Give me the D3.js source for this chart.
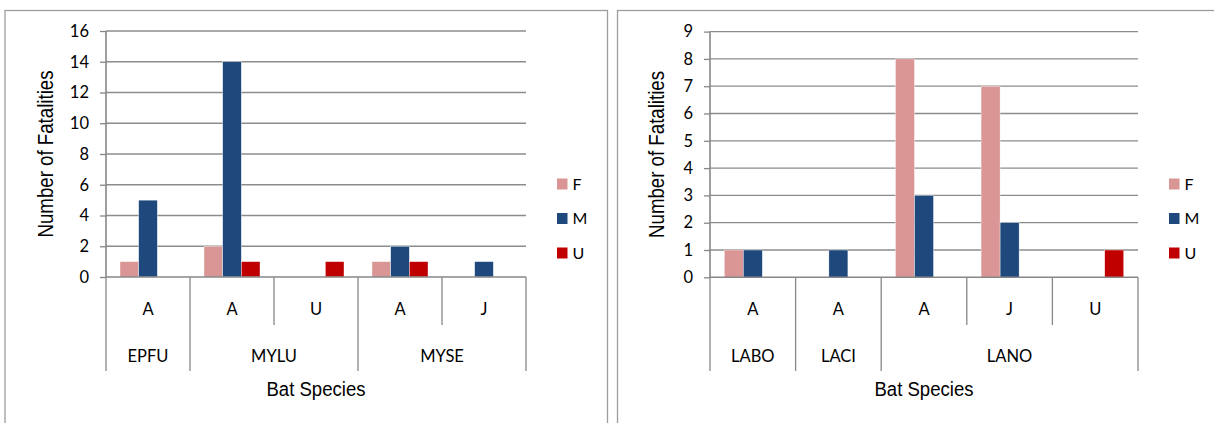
<!DOCTYPE html>
<html>
<head>
<meta charset="utf-8">
<script src="https://cdn.jsdelivr.net/npm/d3@7/dist/d3.min.js"></script>
<style>
  html, body { margin: 0; padding: 0; background: #fff; }
  svg { display: block; }
  .tick text, .cat, .legend-text { font-family: Lato, "Noto Sans", sans-serif; fill: #000; }
  .title { font-family: "Liberation Sans", Arial, sans-serif; fill: #000; }
</style>
</head>
<body>
<svg id="chart" width="1214" height="423"></svg>
<script>
// Series (sex) and their order within each age-class cluster
const sexes = ["F", "M", "U"];

// Panel 1: Myotis / big brown bats
const species1 = ["EPFU", "MYLU", "MYLU", "MYSE", "MYSE"];
const ages1    = ["A", "A", "U", "A", "J"];
const female1  = [1, 2, 0, 1, 0];
const male1    = [5, 14, 0, 2, 1];
const unknown1 = [0, 1, 1, 1, 0];
const ticks1   = [0, 2, 4, 6, 8, 10, 12, 14, 16];

// Panel 2: Lasiurus / silver-haired bats
const species2 = ["LABO", "LACI", "LANO", "LANO", "LANO"];
const ages2    = ["A", "A", "A", "J", "U"];
const female2  = [1, 0, 8, 7, 0];
const male2    = [1, 1, 3, 2, 0];
const unknown2 = [0, 0, 0, 0, 1];
const ticks2   = [0, 1, 2, 3, 4, 5, 6, 7, 8, 9];

const yTitle = "Number of Fatalities";
const xTitle = "Bat Species";

const colors = { F: "#D99694", M: "#1F497D", U: "#C00000" };
const gridColor = "#8c8c8c";
const axisColor = "#878787";

const svg = d3.select("#chart");

function drawPanel(p) {
  const g = svg.append("g");

  // outer frame (runs past the bottom edge)
  g.append("rect")
    .attr("x", p.frame[0]).attr("y", p.frame[1])
    .attr("width", p.frame[2]).attr("height", p.frame[3])
    .attr("fill", "none").attr("stroke", "#9d9d9d").attr("stroke-width", 1.3);

  const rows = p.ages.map((a, i) => ({
    key: i, age: a, species: p.species[i],
    F: p.female[i], M: p.male[i], U: p.unknown[i]
  }));

  const x = d3.scaleBand().domain(rows.map(r => r.key))
    .range([p.left, p.right]).paddingInner(0).paddingOuter(0);
  const xs = d3.scaleBand().domain(sexes)
    .range([0, x.bandwidth()]).paddingInner(0).paddingOuter(0.75);
  const y = d3.scaleLinear().domain([0, d3.max(p.ticks)]).range([p.bottom, p.top]);

  // horizontal gridlines
  g.append("g").selectAll("line").data(p.ticks.filter(t => t > 0)).join("line")
    .attr("x1", p.left).attr("x2", p.right)
    .attr("y1", d => y(d)).attr("y2", d => y(d))
    .attr("stroke", gridColor).attr("stroke-width", 1.3);

  // bars
  const cluster = g.append("g").selectAll("g").data(rows).join("g")
    .attr("transform", r => `translate(${x(r.key)},0)`);
  cluster.selectAll("rect")
    .data(r => sexes.map(s => ({ s, v: r[s] })).filter(d => d.v > 0))
    .join("rect")
    .attr("x", d => xs(d.s)).attr("width", xs.bandwidth())
    .attr("y", d => y(d.v)).attr("height", d => y(0) - y(d.v))
    .attr("fill", d => colors[d.s])
    .attr("stroke", "#ffffff").attr("stroke-width", 0.4);

  // value axis
  const ya = g.append("g").attr("transform", `translate(${p.left},0)`)
    .call(d3.axisLeft(y).tickValues(p.ticks).tickSize(6).tickPadding(11)
      .tickFormat(d3.format("d")));
  ya.select(".domain").remove();
  ya.selectAll(".tick line").attr("stroke", axisColor).attr("stroke-width", 1.3);
  ya.selectAll(".tick text").attr("font-size", 16.5);
  g.append("line")
    .attr("x1", p.left).attr("x2", p.left)
    .attr("y1", y(d3.max(p.ticks))).attr("y2", p.bottom)
    .attr("stroke", axisColor).attr("stroke-width", 1.6);

  // category axis baseline
  g.append("line")
    .attr("x1", p.left).attr("x2", p.right)
    .attr("y1", p.bottom).attr("y2", p.bottom)
    .attr("stroke", axisColor).attr("stroke-width", 1.6);

  // multi-level category dividers
  const n = rows.length;
  const bounds = d3.range(n + 1).map(i => ({
    x: i < n ? x(i) : x(n - 1) + x.bandwidth(),
    long: i === 0 || i === n || rows[i].species !== rows[i - 1].species
  }));
  g.append("g").selectAll("line").data(bounds).join("line")
    .attr("x1", d => d.x).attr("x2", d => d.x)
    .attr("y1", p.bottom)
    .attr("y2", d => d.long ? p.level2Bottom : p.level1Bottom)
    .attr("stroke", axisColor).attr("stroke-width", 1.3);

  // age-class labels
  g.append("g").selectAll("text").data(rows).join("text")
    .attr("class", "cat")
    .attr("x", r => x(r.key) + x.bandwidth() / 2)
    .attr("y", p.level1Y).attr("dy", "0.36em")
    .attr("text-anchor", "middle").attr("font-size", 16.5)
    .text(r => r.age);

  // species labels, centred over each run of age classes
  const groups = [];
  rows.forEach(r => {
    const last = groups[groups.length - 1];
    if (last && last.species === r.species) last.end = r.key;
    else groups.push({ species: r.species, start: r.key, end: r.key });
  });
  g.append("g").selectAll("text").data(groups).join("text")
    .attr("class", "cat")
    .attr("x", d => (x(d.start) + x(d.end) + x.bandwidth()) / 2)
    .attr("y", p.level2Y).attr("dy", "0.36em")
    .attr("text-anchor", "middle").attr("font-size", 16.5)
    .text(d => d.species);

  // axis titles
  g.append("text").attr("class", "title")
    .attr("x", (p.left + p.right) / 2).attr("y", p.xTitleY)
    .attr("text-anchor", "middle").attr("font-size", 20)
    .attr("textLength", 99).attr("lengthAdjust", "spacingAndGlyphs")
    .text(xTitle);
  g.append("text").attr("class", "title")
    .attr("transform", `translate(${p.yTitleX},${(p.top + p.bottom) / 2}) rotate(-90)`)
    .attr("text-anchor", "middle").attr("font-size", 22)
    .attr("textLength", 167).attr("lengthAdjust", "spacingAndGlyphs")
    .text(yTitle);

  // legend
  const lg = g.append("g").selectAll("g").data(sexes).join("g")
    .attr("transform", (s, i) => `translate(${p.legendX},${p.legendY + i * 34.5})`);
  lg.append("rect").attr("x", 0).attr("y", -5.5).attr("width", 10.5).attr("height", 11)
    .attr("fill", s => colors[s]);
  lg.append("text").attr("class", "legend-text")
    .attr("x", 15.5).attr("y", 0).attr("dy", "0.36em")
    .attr("font-size", 16).text(s => s);
}

drawPanel({
  frame: [5, 10.5, 602.5, 430],
  left: 106, right: 526, top: 31, bottom: 277,
  level1Bottom: 325, level2Bottom: 371, level1Y: 309, level2Y: 356,
  xTitleY: 396, yTitleX: 52.5,
  legendX: 557, legendY: 184,
  species: species1, ages: ages1,
  female: female1, male: male1, unknown: unknown1, ticks: ticks1
});

drawPanel({
  frame: [617.5, 10.5, 620, 430],
  left: 710, right: 1138, top: 31.6, bottom: 277.3,
  level1Bottom: 325, level2Bottom: 371, level1Y: 309, level2Y: 356,
  xTitleY: 396, yTitleX: 664,
  legendX: 1169, legendY: 184,
  species: species2, ages: ages2,
  female: female2, male: male2, unknown: unknown2, ticks: ticks2
});
</script>
</body>
</html>
